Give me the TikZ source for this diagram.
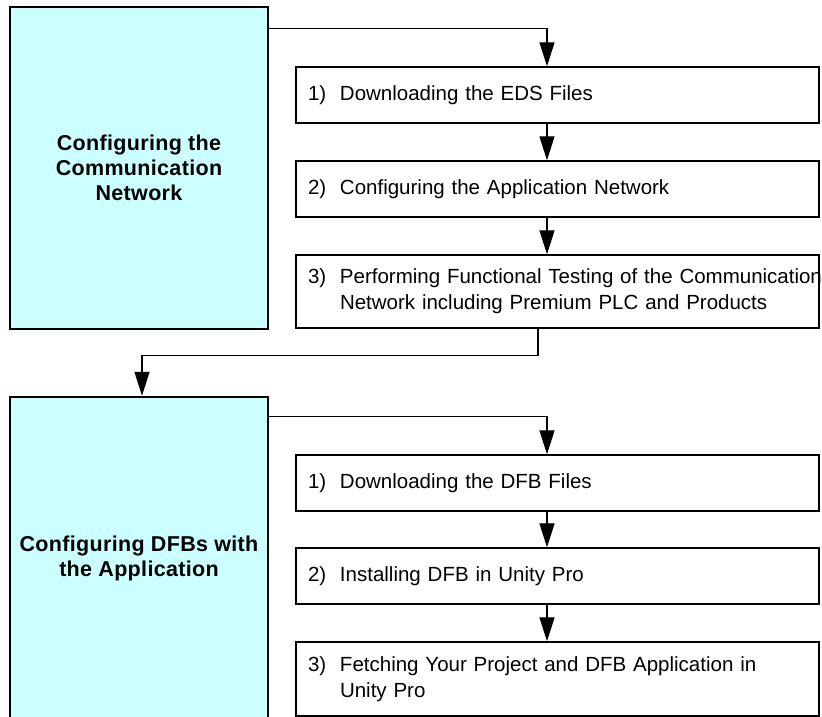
\documentclass[tikz,border=0pt]{standalone}
\usepackage{fontspec}
\setmainfont{Liberation Sans}
\newfontfamily\phasefont[LetterSpace=1.5]{Liberation Sans}
\usetikzlibrary{arrows.meta}

\definecolor{phasecyan}{RGB}{204,255,255}
\newcommand{\steplabel}[2]{\makebox[32pt][l]{#1}\begin{tabular}[t]{@{}l@{}}#2\end{tabular}}

\begin{document}
\begin{tikzpicture}[x=1pt,y=-1pt,
  phase/.style={rectangle,draw,line width=2.4pt,fill=phasecyan,minimum width=258pt,minimum height=322pt,align=center,font=\fontsize{21.5}{25}\phasefont\bfseries},
  stepbox/.style={rectangle,draw,line width=1.4pt,minimum width=523pt,text width=499pt,inner xsep=12pt,align=left,font=\fontsize{20.5}{26}\selectfont},
  flow/.style={line width=1.3pt,-{Triangle[length=24pt,width=15pt]}}]
    \clip (0,0) rectangle (822,717);

    %phases
    \node (cfg1) at (139,168) [phase]{Configuring the\\Communication\\Network};
    \node (cfg2) at (139,558) [phase]{Configuring DFBs with\\the Application};

    %steps network
    \node (s11) at (557.5,95) [stepbox,minimum height=56pt]{\steplabel{1)}{Downloading the EDS Files}};
    \node (s12) at (557.5,189) [stepbox,minimum height=56pt]{\steplabel{2)}{Configuring the Application Network}};
    \node (s13) at (557.5,291.5) [stepbox,minimum height=73pt]{\steplabel{3)}{Performing Functional Testing of the Communication\\Network including Premium PLC and Products}};

    %steps dfb
    \node (s21) at (557.5,483) [stepbox,minimum height=56pt]{\steplabel{1)}{Downloading the DFB Files}};
    \node (s22) at (557.5,576) [stepbox,minimum height=56pt]{\steplabel{2)}{Installing DFB in Unity Pro}};
    \node (s23) at (557.5,679) [stepbox,minimum height=74pt]{\steplabel{3)}{Fetching Your Project and DFB Application in\\Unity Pro}};

    %arrows network
    \draw [flow] ([yshift=-23pt]cfg1.north east) -| ([xshift=-10.5pt]s11.north);
    \draw [flow] ([xshift=-10.5pt]s11.south) to ([xshift=-10.5pt]s12.north);
    \draw [flow] ([xshift=-10.5pt]s12.south) to ([xshift=-10.5pt]s13.north);
    \draw [flow] ([xshift=-19.5pt]s13.south) -- ++(0,27) -| ([xshift=3pt]cfg2.north);

    %arrows dfb
    \draw [flow] ([yshift=-21pt]cfg2.north east) -| ([xshift=-10.5pt]s21.north);
    \draw [flow] ([xshift=-10.5pt]s21.south) to ([xshift=-10.5pt]s22.north);
    \draw [flow] ([xshift=-10.5pt]s22.south) to ([xshift=-10.5pt]s23.north);
  \end{tikzpicture}
\end{document}
